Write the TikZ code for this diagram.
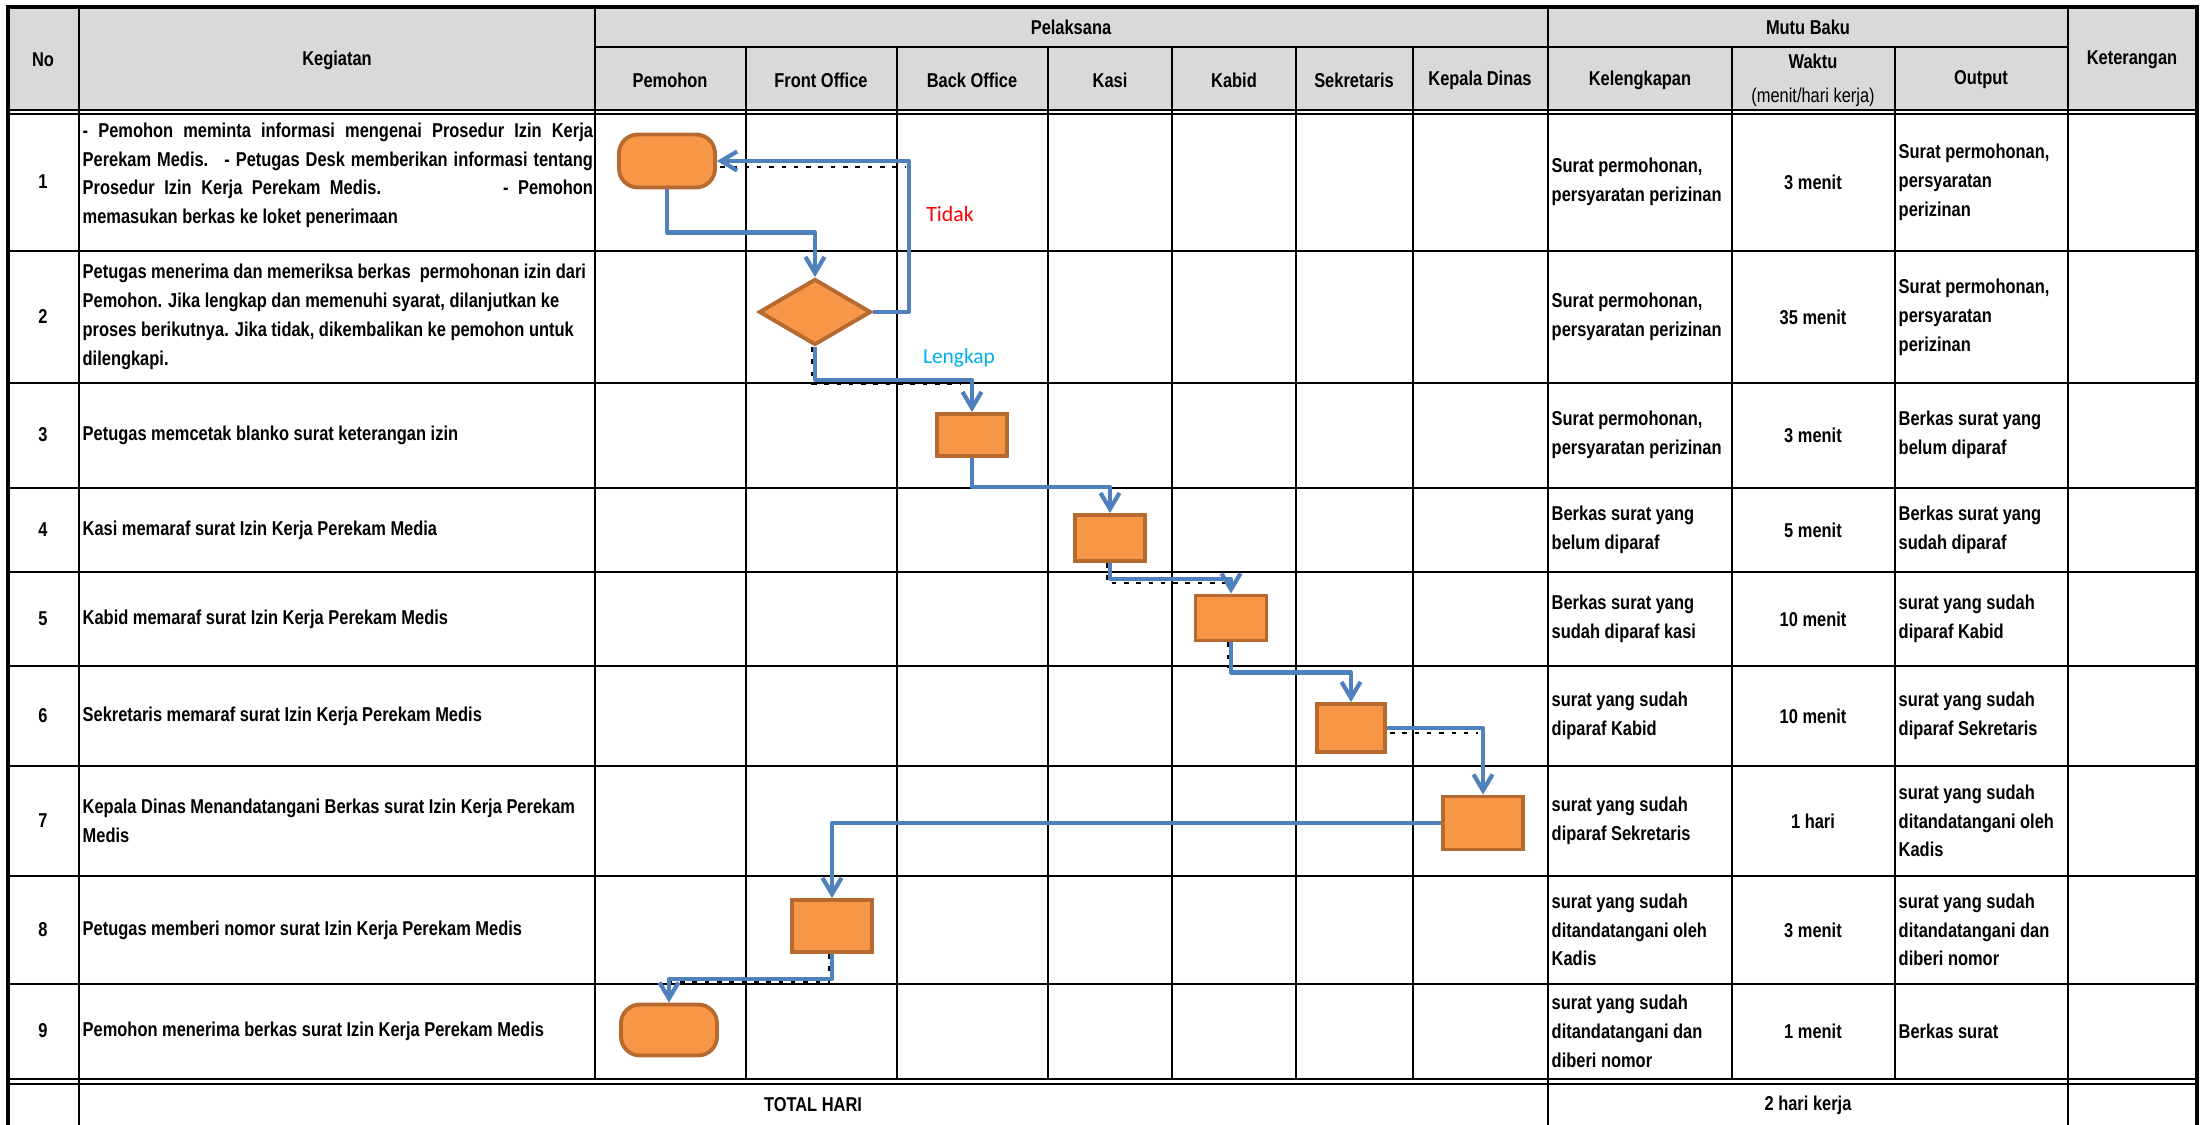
\documentclass[tikz,border=0pt]{standalone}
\usepackage{fontspec}
\setmainfont{Liberation Sans}[FakeStretch=0.82]
\newfontfamily\labelfont{Carlito}
\usetikzlibrary{arrows.meta, shapes.geometric, positioning, calc}
\definecolor{boxorange}{RGB}{247,150,70}
\definecolor{boxbrown}{RGB}{182,106,48}
\definecolor{flowblue}{RGB}{79,129,189}
\definecolor{headgray}{RGB}{217,217,217}
\definecolor{lengkapblue}{RGB}{0,176,240}
\newcommand\cellfont{\fontsize{5.7pt}{8.2pt}\selectfont\bfseries}

\begin{document}
\begin{tikzpicture}[
  x = 0.01cm, y = -0.01cm,
  > = {Straight Barb[length=1.6mm, width=1.9mm]},
  grid line/.style = {line width=0.6pt},
  outer line/.style = {line width=1.1pt},
  flow line/.style = {draw=flowblue, line width=1.2pt, line join=round},
  shadow line/.style = {line width=0.8pt, dash pattern=on 1.3pt off 2.2pt},
  process box/.style = {rectangle, fill=boxorange, draw=boxbrown, line width=1.1pt, inner sep=0pt},
  start end/.style = {process box, rounded corners=1.9mm, minimum width=0.96cm, minimum height=0.53cm},
  decision box/.style = {diamond, fill=boxorange, draw=boxbrown, line width=1.1pt, inner sep=0pt,
    minimum width=1.12cm, minimum height=0.66cm},
  cell text/.style = {font=\cellfont, inner sep=0pt, align=left, anchor=west},
  head text/.style = {font=\cellfont, inner sep=0pt, align=center}
]
  \useasboundingbox (0,0) rectangle (2205,1125);

  % table
  \fill[headgray] (8,7) rectangle (2197,110);
  \foreach \yy in {110,114,251,383,488,572,666,766,876,984,1079,1084}
    \draw[grid line] (8,\yy) -- (2197,\yy);
  \draw[grid line] (595,47) -- (2068,47);
  \foreach \xx in {746,897,1048,1172,1296,1413,1732,1895}
    \draw[grid line] (\xx,47) -- (\xx,1079);
  \draw[grid line] (595,7) -- (595,1079);
  \foreach \xx in {79,1548,2068}
    \draw[grid line] (\xx,7) -- (\xx,1125);
  \draw[outer line] (8,1125) -- (8,7) -- (2197,7) -- (2197,1125);

  \node[head text] (hno) at (43,60) {No};
  \node[head text] (hkeg) at (337,60) {Kegiatan};
  \node[head text] (hpel) at (1071,27) {Pelaksana};
  \node[head text] (hmutu) at (1808,27) {Mutu Baku};
  \node[head text] (hket) at (2132,60) {Keterangan};
  \foreach \xx/\name/\txt in {670/pem/Pemohon, 821/fo/Front Office, 972/bo/Back Office,
      1110/kasi/Kasi, 1234/kabid/Kabid, 1354/sek/Sekretaris, 1480/kadis/Kepala Dinas,
      1640/kel/Kelengkapan, 1981/out/Output}
    \node[head text] (h\name) at (\xx,80) {\txt};
  \node[head text] (hwak) at (1813,80) {Waktu\\[1.5pt]{\mdseries (menit/hari kerja)}};

  \foreach \i/\yc in {1/182, 2/317, 3/435, 4/530, 5/619, 6/716, 7/821, 8/930, 9/1031}
    \node[head text] (no\i) at (43,\yc) {\i};

  \node[cell text, anchor=north west] (keg1) at (82,122) {%
    \makebox[5.1cm][s]{- Pemohon meminta informasi mengenai Prosedur Izin Kerja}\\
    \makebox[5.1cm][s]{Perekam Medis. \ - Petugas Desk memberikan informasi tentang}\\
    \makebox[5.1cm][s]{Prosedur Izin Kerja Perekam Medis. \hspace{0.8cm} - Pemohon}\\
    memasukan berkas ke loket penerimaan};
  \node[cell text] (keg2) at (82,317) {Petugas menerima dan memeriksa berkas \ permohonan izin dari\\
    Pemohon. Jika lengkap dan memenuhi syarat, dilanjutkan ke\\
    proses berikutnya. Jika tidak, dikembalikan ke pemohon untuk\\
    dilengkapi.};
  \foreach \i/\yc/\txt in {3/435/Petugas memcetak blanko surat keterangan izin,
      4/530/Kasi memaraf surat Izin Kerja Perekam Media,
      5/619/Kabid memaraf surat Izin Kerja Perekam Medis,
      6/716/Sekretaris memaraf surat Izin Kerja Perekam Medis,
      7/821/{Kepala Dinas Menandatangani Berkas surat Izin Kerja Perekam\\Medis},
      8/930/Petugas memberi nomor surat Izin Kerja Perekam Medis,
      9/1031/Pemohon menerima berkas surat Izin Kerja Perekam Medis}
    \node[cell text] (keg\i) at (82,\yc) {\txt};

  \foreach \i/\yc/\kel/\wak/\out in {
      1/182/{Surat permohonan,\\persyaratan perizinan}/{3 menit}/{Surat permohonan,\\persyaratan\\perizinan},
      2/317/{Surat permohonan,\\persyaratan perizinan}/{35 menit}/{Surat permohonan,\\persyaratan\\perizinan},
      3/435/{Surat permohonan,\\persyaratan perizinan}/{3 menit}/{Berkas surat yang\\belum diparaf},
      4/530/{Berkas surat yang\\belum diparaf}/{5 menit}/{Berkas surat yang\\sudah diparaf},
      5/619/{Berkas surat yang\\sudah diparaf kasi}/{10 menit}/{surat yang sudah\\diparaf Kabid},
      6/716/{surat yang sudah\\diparaf Kabid}/{10 menit}/{surat yang sudah\\diparaf Sekretaris},
      7/821/{surat yang sudah\\diparaf Sekretaris}/{1 hari}/{surat yang sudah\\ditandatangani oleh\\Kadis},
      8/930/{surat yang sudah\\ditandatangani oleh\\Kadis}/{3 menit}/{surat yang sudah\\ditandatangani dan\\diberi nomor},
      9/1031/{surat yang sudah\\ditandatangani dan\\diberi nomor}/{1 menit}/{Berkas surat}}
  {
    \node[cell text] (kel\i) at (1551,\yc) {\kel};
    \node[head text] (wak\i) at (1813,\yc) {\wak};
    \node[cell text] (out\i) at (1898,\yc) {\out};
  }

  \node[head text] (total) at (813,1105) {TOTAL HARI};
  \node[head text] (totwak) at (1808,1105) {2 hari kerja};

  % flow
  \node[start end] (t1) at (667,161) {};
  \node[decision box] (d2) at (815,312) {};
  \node[process box, minimum width=0.70cm, minimum height=0.42cm] (b3) at (972,435) {};
  \node[process box, minimum width=0.70cm, minimum height=0.46cm] (b4) at (1110,538) {};
  \node[process box, minimum width=0.71cm, minimum height=0.45cm] (b5) at (1231,618) {};
  \node[process box, minimum width=0.68cm, minimum height=0.48cm] (b6) at (1351,728) {};
  \node[process box, minimum width=0.80cm, minimum height=0.53cm] (b7) at (1483,823) {};
  \node[process box, minimum width=0.80cm, minimum height=0.52cm] (b8) at (832,926) {};
  \node[start end, minimum height=0.51cm] (t9) at (669,1030) {};

  \draw[shadow line] ($(t1.east)+(3,6)$) -- ++(186,0);
  \draw[shadow line] ($(d2.south)+(-3,0)$) -- ++(0,37) -- ++(148,0);
  \draw[shadow line] ($(b4.south)+(-3,0)$) -- ++(0,20) -- ++(120,0);
  \draw[shadow line] ($(b5.south)+(-3,0)$) -- ++(0,26);
  \draw[shadow line] ($(b6.east)+(3,5)$) -- ++(88,0);
  \draw[shadow line] ($(b8.south)+(-3,0)$) -- ++(0,28) -- ++(-158,0);

  \draw[flow line, ->] (t1.south) -- ++(0,43) -| (d2.north);
  \draw[flow line, ->] (d2.east) -- ++(36,0) |- (t1.east);
  \draw[flow line, ->] (d2.south) -- ++(0,33) -| (b3.north);
  \draw[flow line, ->] (b3.south) -- ++(0,29) -| (b4.north);
  \draw[flow line, ->] (b4.south) -- ++(0,16) -| (b5.north);
  \draw[flow line, ->] (b5.south) -- ++(0,30) -| (b6.north);
  \draw[flow line, ->] (b6.east) -| (b7.north);
  \draw[flow line, ->] (b7.west) -| (b8.north);
  \draw[flow line, ->] (b8.south) -- ++(0,25) -| (t9.north);

  \node[text=red, font=\labelfont\fontsize{6.2pt}{7pt}\selectfont] (tidak) at (950,214) {Tidak};
  \node[text=lengkapblue, font=\labelfont\fontsize{6.1pt}{7pt}\selectfont] (lengkap) at (959,358) {Lengkap};
\end{tikzpicture}
\end{document}
